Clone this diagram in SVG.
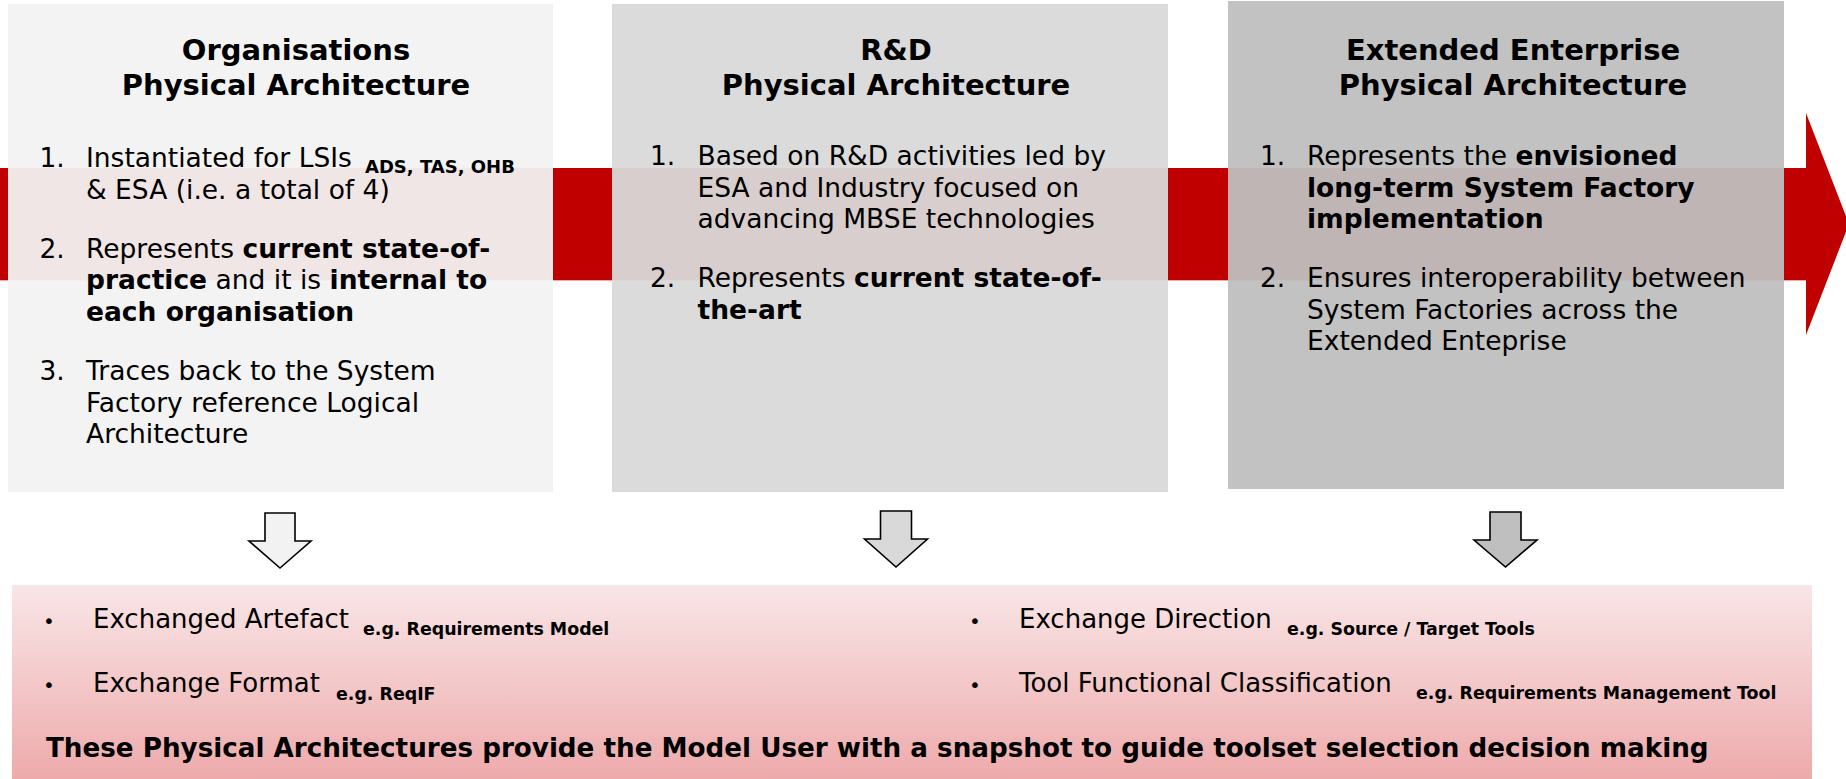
<svg xmlns="http://www.w3.org/2000/svg" width="1846" height="779" viewBox="0 0 1846 779">
<defs>
<linearGradient id="gBottom" x1="0" y1="0" x2="0" y2="1">
<stop offset="0" stop-color="#f9e6e7"/>
<stop offset="1" stop-color="#eeaaab"/>
</linearGradient>
</defs>
<style>
text { font-family: "DejaVu Sans", Verdana, sans-serif; fill: #000; }
.t { font-size: 29px; font-weight: bold; text-anchor: middle; }
.b { font-size: 26.5px; }
.bb { font-weight: bold; }
.sub { font-size: 18px; font-weight: bold; }
.lb { font-size: 26px; }
.ls { font-size: 17.4px; font-weight: bold; }
.bul { font-size: 20px; }
.fin { font-size: 26.2px; font-weight: bold; }
.box { fill-opacity: 0.95; }
.darrow { stroke: #000; stroke-width: 1.6; stroke-linejoin: miter; }
</style>
<rect width="1846" height="779" fill="#ffffff"/>
<g id="timeline-arrow">
<polygon points="0,168 1806,168 1806,113 1849,224 1806,335 1806,280 0,280" fill="#c00000"/>
<line x1="0" y1="280.5" x2="1806" y2="280.5" stroke="#f2a6a6" stroke-width="1"/>
</g>
<g id="organisations-pa">
<rect class="box" x="8" y="4" width="545" height="488" fill="#f2f2f2"/>
<text class="t" x="296" y="60">Organisations</text>
<text class="t" x="296" y="95">Physical Architecture</text>
<text class="b" x="39.5" y="167">1.</text>
<text class="b" x="86" y="167">Instantiated for LSIs <tspan class="sub" x="365" y="173">ADS, TAS, OHB</tspan></text>
<text class="b" x="86" y="198.5">&amp; ESA (i.e. a total of 4)</text>
<text class="b" x="39.5" y="257.5">2.</text>
<text class="b" x="86" y="257.5">Represents <tspan class="bb">current state-of-</tspan></text>
<text class="b" x="86" y="289"><tspan class="bb">practice</tspan> and it is <tspan class="bb">internal to</tspan></text>
<text class="b bb" x="86" y="320.5">each organisation</text>
<text class="b" x="39.5" y="380">3.</text>
<text class="b" x="86" y="380">Traces back to the System</text>
<text class="b" x="86" y="411.5">Factory reference Logical</text>
<text class="b" x="86" y="443">Architecture</text>
</g>
<g id="rnd-pa">
<rect class="box" x="612" y="4" width="556" height="488" fill="#d9d9d9"/>
<text class="t" x="896" y="60">R&amp;D</text>
<text class="t" x="896" y="95">Physical Architecture</text>
<text class="b" x="650" y="165">1.</text>
<text class="b" x="697.5" y="165">Based on R&amp;D activities led by</text>
<text class="b" x="697.5" y="196.5">ESA and Industry focused on</text>
<text class="b" x="697.5" y="228">advancing MBSE technologies</text>
<text class="b" x="650" y="287">2.</text>
<text class="b" x="697.5" y="287">Represents <tspan class="bb">current state-of-</tspan></text>
<text class="b bb" x="697.5" y="318.5">the-art</text>
</g>
<g id="extended-enterprise-pa">
<rect class="box" x="1228" y="1" width="556" height="488" fill="#bfbfbf"/>
<text class="t" x="1513" y="60">Extended Enterprise</text>
<text class="t" x="1513" y="95">Physical Architecture</text>
<text class="b" x="1260" y="165">1.</text>
<text class="b" x="1307" y="165">Represents the <tspan class="bb">envisioned</tspan></text>
<text class="b bb" x="1307" y="196.5">long-term System Factory</text>
<text class="b bb" x="1307" y="228">implementation</text>
<text class="b" x="1260" y="287">2.</text>
<text class="b" x="1307" y="287">Ensures interoperability between</text>
<text class="b" x="1307" y="318.5">System Factories across the</text>
<text class="b" x="1307" y="350">Extended Enteprise</text>
</g>
<g id="exchange-criteria">
<rect x="12" y="585" width="1800" height="194" fill="url(#gBottom)"/>
<text class="bul" x="43" y="628">•</text>
<text class="lb" x="93" y="628">Exchanged Artefact <tspan class="ls" x="363" y="635">e.g. Requirements Model</tspan></text>
<text class="bul" x="43" y="692">•</text>
<text class="lb" x="93" y="692">Exchange Format <tspan class="ls" x="336" y="700">e.g. ReqIF</tspan></text>
<text class="bul" x="969" y="628">•</text>
<text class="lb" x="1019" y="628">Exchange Direction <tspan class="ls" x="1287" y="635">e.g. Source / Target Tools</tspan></text>
<text class="bul" x="969" y="692">•</text>
<text class="lb" x="1019" y="692">Tool Functional Classification <tspan class="ls" x="1416" y="699">e.g. Requirements Management Tool</tspan></text>
<text class="fin" x="46" y="757">These Physical Architectures provide the Model User with a snapshot to guide toolset selection decision making</text>
</g>
<g id="connectors">
<polygon class="darrow" fill="#f2f2f2" points="265,513 295,513 295,541 311,541 280,568 249,541 265,541"/>
<polygon class="darrow" fill="#d9d9d9" points="880.5,511 911.5,511 911.5,539 927.5,539 896,567 864.5,539 880.5,539"/>
<polygon class="darrow" fill="#bfbfbf" points="1490,512 1521,512 1521,540 1537,540 1505.5,567 1474,540 1490,540"/>
</g>
</svg>
